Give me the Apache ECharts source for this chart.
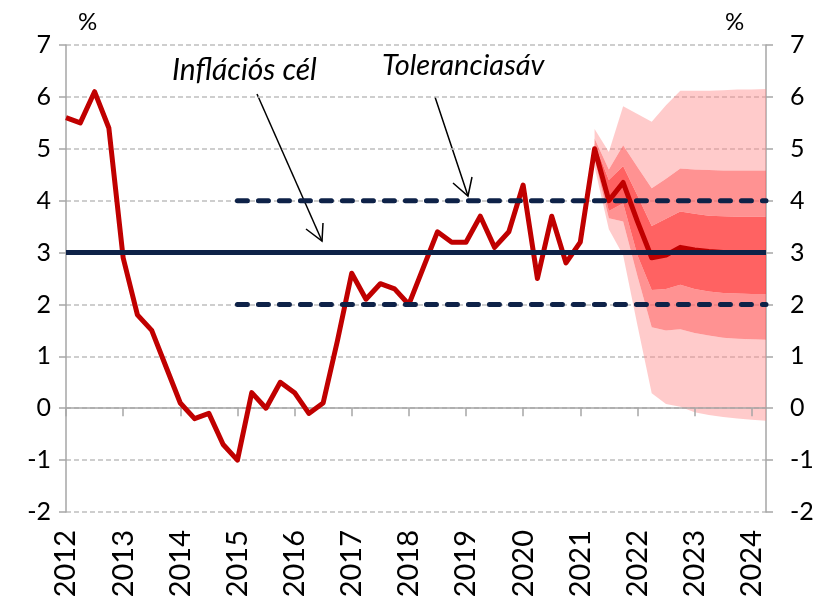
<!DOCTYPE html>
<html>
<head>
<meta charset="utf-8">
<script src="https://cdn.jsdelivr.net/npm/echarts@6/dist/echarts.min.js"></script>
<style>
  html, body { margin: 0; padding: 0; background: #fff; }
</style>
</head>
<body>
<div id="chart" style="width: 821px; height: 596px"></div>
<script>
// tick labels
var years = ["2012", "2013", "2014", "2015", "2016", "2017", "2018",
  "2019", "2020", "2021", "2022", "2023", "2024"];
var yTicks = [-2, -1, 0, 1, 2, 3, 4, 5, 6, 7];

// inflation, quarterly, 2012 Q1 .. 2024 Q2 (history + central projection)
var inflation = [5.6, 5.5, 6.1, 5.4, 2.9, 1.8, 1.5, 0.8, 0.1, -0.2,
  -0.1, -0.7, -1.0, 0.3, 0.0, 0.5, 0.3, -0.1, 0.1, 1.3,
  2.6, 2.1, 2.4, 2.3, 2.0, 2.7, 3.4, 3.2, 3.2, 3.7,
  3.1, 3.4, 4.3, 2.5, 3.7, 2.8, 3.2, 5.0, 4.0, 4.35,
  3.6, 2.9, 2.95, 3.1, 3.05, 3.02, 3.0, 3.0, 3.0, 3.0];

// fan chart bounds, starting at index 37
var fanStart = 37;
var lightHigh = [5.38, 4.94, 5.82, 5.67, 5.52, 5.84, 6.12, 6.12, 6.12, 6.13, 6.14, 6.14, 6.15];
var medHigh   = [5.2, 4.6, 5.07, 4.65, 4.24, 4.42, 4.62, 4.6, 4.59, 4.58, 4.58, 4.58, 4.58];
var darkHigh  = [5.1, 4.4, 4.67, 4.1, 3.51, 3.65, 3.79, 3.75, 3.71, 3.7, 3.69, 3.69, 3.69];
var darkLow   = [4.9, 3.8, 3.95, 2.95, 2.28, 2.3, 2.38, 2.3, 2.25, 2.22, 2.21, 2.2, 2.2];
var medLow    = [4.8, 3.66, 3.6, 2.55, 1.56, 1.5, 1.52, 1.45, 1.4, 1.36, 1.34, 1.33, 1.32];
var lightLow  = [4.65, 3.45, 2.95, 1.6, 0.29, 0.08, 0.03, -0.08, -0.13, -0.17, -0.2, -0.22, -0.24];

// target and tolerance band
var target = 3;
var tolLow = 2;
var tolHigh = 4;
var tolStart = 12; // 2015 Q1

var categories = [];
for (var i = 0; i < inflation.length; i++) {
  categories.push(years[Math.floor(i / 4)] + " Q" + (i % 4 + 1));
}

function fanLayer(upper, lower) {
  var out = [];
  for (var i = 0; i < categories.length; i++) {
    var k = i - fanStart;
    if (k < 0) { out.push("-"); continue; }
    out.push(lower ? +(upper[k] - lower[k]).toFixed(3) : upper[k]);
  }
  return out;
}

function flat(v, from) {
  return categories.map(function (c, i) { return i >= from ? v : "-"; });
}

var navy = "#0e2248";
var font = "Lato, 'Open Sans', sans-serif";

function band(name, data, color) {
  return {
    name: name,
    type: "line",
    stack: "fan",
    stackStrategy: "all",
    data: data,
    symbol: "none",
    lineStyle: { width: 0 },
    areaStyle: color ? { color: color, opacity: 1 } : null,
    z: 1,
    silent: true,
  };
}

var lightC = "rgba(255,140,140,0.45)";
var medC = "rgba(255,100,100,0.7)";
var darkC = "rgba(255,70,70,0.85)";

var arrowStyle = { stroke: "#000", lineWidth: 1.5, fill: null };

var option = {
  animation: false,
  grid: { left: 66, right: 55, top: 45, bottom: 84, outerBoundsMode: "none", containLabel: false },
  xAxis: [
    {
      type: "category",
      data: categories,
      boundaryGap: false,
      z: 3,
      axisLine: { onZero: true, lineStyle: { color: "#a6a6a6", width: 1.5 } },
      axisTick: { interval: 3, length: 8, inside: false, lineStyle: { color: "#a6a6a6", width: 1.5 } },
      axisLabel: { show: false },
      splitLine: { show: false },
    },
    {
      type: "category",
      data: categories,
      boundaryGap: false,
      position: "bottom",
      axisLine: { show: false, onZero: false },
      axisTick: { show: false },
      axisLabel: {
        interval: 3,
        rotate: 90,
        margin: 18,
        color: "#000",
        fontSize: 29,
        fontFamily: font,
        formatter: function (v) { return v.slice(0, 4); },
      },
    },
  ],
  yAxis: [
    {
      type: "value",
      min: yTicks[0],
      max: yTicks[yTicks.length - 1],
      interval: 1,
      axisLine: { show: true, lineStyle: { color: "#a6a6a6", width: 1.5 } },
      axisTick: { show: true, length: 7, lineStyle: { color: "#a6a6a6", width: 1.5 } },
      axisLabel: { color: "#000", fontSize: 25, fontFamily: font, margin: 15 },
      splitLine: { lineStyle: { color: "#bfbfbf", width: 1.5, type: [5, 3] } },
    },
    {
      type: "value",
      position: "right",
      min: yTicks[0],
      max: yTicks[yTicks.length - 1],
      interval: 1,
      axisLine: { show: true, lineStyle: { color: "#a6a6a6", width: 1.5 } },
      axisTick: { show: true, length: 7, lineStyle: { color: "#a6a6a6", width: 1.5 } },
      axisLabel: { color: "#000", fontSize: 25, fontFamily: font, margin: 24 },
      splitLine: { show: false },
    },
  ],
  series: [
    band("base", fanLayer(lightLow), null),
    band("light-lo", fanLayer(medLow, lightLow), lightC),
    band("med-lo", fanLayer(darkLow, medLow), medC),
    band("dark", fanLayer(darkHigh, darkLow), darkC),
    band("med-hi", fanLayer(medHigh, darkHigh), medC),
    band("light-hi", fanLayer(lightHigh, medHigh), lightC),
    {
      name: "Infláció",
      type: "line",
      data: inflation,
      symbol: "none",
      lineStyle: { color: "#c00000", width: 5, join: "round" },
      z: 3,
    },
    {
      name: "Toleranciasáv alsó",
      type: "line",
      data: flat(tolLow, tolStart),
      symbol: "none",
      lineStyle: { color: navy, width: 5, type: [10, 11], cap: "round" },
      z: 4,
    },
    {
      name: "Toleranciasáv felső",
      type: "line",
      data: flat(tolHigh, tolStart),
      symbol: "none",
      lineStyle: { color: navy, width: 5, type: [10, 11], cap: "round" },
      z: 4,
    },
    {
      name: "Inflációs cél",
      type: "line",
      data: flat(target, 0),
      symbol: "none",
      lineStyle: { color: navy, width: 5 },
      z: 4,
    },
  ],
  graphic: [
    { type: "text", left: 78, top: 10, style: { text: "%", fontSize: 24, fontFamily: font, fill: "#000" } },
    { type: "text", left: 725, top: 10, style: { text: "%", fontSize: 24, fontFamily: font, fill: "#000" } },
    { type: "text", left: 172, top: 55, style: { text: "Inflációs cél", fontSize: 30, fontStyle: "italic", fontFamily: font, fill: "#000" } },
    { type: "text", left: 382, top: 51, style: { text: "Toleranciasáv", fontSize: 29, fontStyle: "italic", fontFamily: font, fill: "#000" } },
    { type: "line", shape: { x1: 257, y1: 94, x2: 322, y2: 241 }, style: arrowStyle },
    { type: "polyline", shape: { points: [[306, 229], [322, 241], [323, 223]] }, style: arrowStyle },
    { type: "line", shape: { x1: 435, y1: 97, x2: 468, y2: 196 }, style: arrowStyle },
    { type: "polyline", shape: { points: [[453, 183], [468, 196], [472, 177]] }, style: arrowStyle },
  ],
};

var chart = echarts.init(document.getElementById("chart"));
chart.setOption(option);
</script>
</body>
</html>
